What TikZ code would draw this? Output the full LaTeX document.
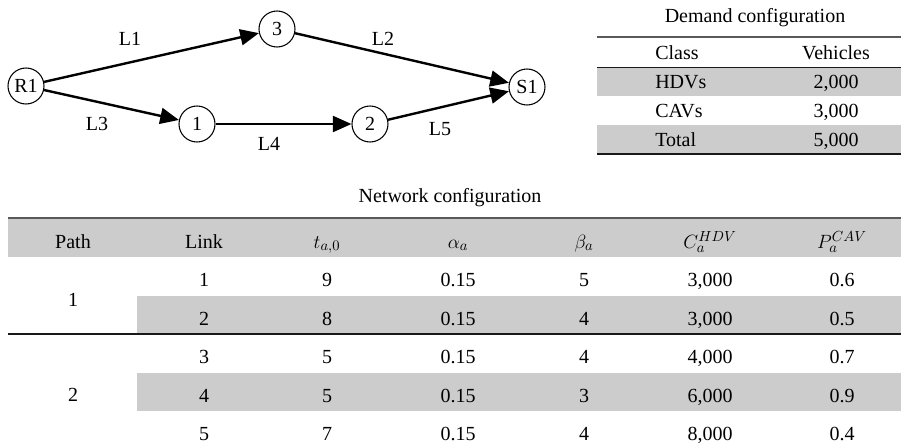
\documentclass[tikz,border=0pt]{standalone}
\usepackage{fontspec}
\setmainfont{Liberation Serif}
\usetikzlibrary{arrows.meta,positioning}
\newcommand{\cfs}{\fontsize{15}{18}\selectfont}

\begin{document}
\begin{tikzpicture}[x=0.75pt, y=-0.75pt,
  vertex/.style={circle, draw, minimum size=27pt, inner sep=0pt,
    line width=0.8pt, font=\cfs},
  link/.style={line width=1.8pt, -{Triangle[length=14pt, width=12pt]}},
  lbl/.style={font=\cfs},
  cell/.style={font=\cfs, anchor=base, inner sep=0pt},
  band/.style={fill=black!20},
  toprule/.style={line width=1.5pt, black!65},
  midrule/.style={line width=1pt, black!90},
]
  \useasboundingbox (0,0) rectangle (901,446);
  % Road network
  \node[vertex] (R1) at (26,86) {R1};
  \node[vertex] (n3) at (277,29) {3};
  \node[vertex] (n1) at (197,124) {1};
  \node[vertex] (n2) at (370,124) {2};
  \node[vertex] (S1) at (527,87) {S1};
  \draw[link] (R1) -- (n3);
  \draw[link] (n3) -- (S1);
  \draw[link] (R1) -- (n1);
  \draw[link] (n1) -- (n2);
  \draw[link] (n2) -- (S1);
  \node[lbl] (L1) at (130,39) {L1};
  \node[lbl] (L2) at (383,39) {L2};
  \node[lbl] (L3) at (97,124) {L3};
  \node[lbl] (L4) at (269,144) {L4};
  \node[lbl] (L5) at (440,129) {L5};
  % Demand configuration
  \fill[band] (597,67) rectangle (901,96);
  \fill[band] (597,125) rectangle (901,154);
  \draw[toprule] (597,37) -- (901,37);
  \draw[midrule, line width=0.7pt] (597,67) -- (901,67);
  \draw[midrule] (597,154) -- (901,154);
  \node[cell] (dtitle) at (755,22) {Demand configuration};
  \node[cell, anchor=base west] (dclass) at (655,59) {Class};
  \node[cell] (dveh) at (836,59) {Vehicles};
  \foreach \c/\v [count=\i] in {HDVs/{2,000}, CAVs/{3,000}, Total/{5,000}}{
    \node[cell, anchor=base west] (dc\i) at (655,59+29*\i) {\c};
    \node[cell] (dv\i) at (836,59+29*\i) {\v};
  }
  % Network configuration
  \node[cell] (ntitle) at (450,202) {Network configuration};
  \fill[band] (8,218) rectangle (901,257);
  \fill[band] (137,295.5) rectangle (901,334);
  \fill[band] (137,372.5) rectangle (901,411);
  \draw[toprule] (8,218) -- (901,218);
  \draw[midrule] (8,334) -- (901,334);
  \foreach \h/\x [count=\i] in {Path/73, Link/204, {$t_{a,0}$}/327,
      {$\alpha_a$}/458, {$\beta_a$}/584, {$C_a^{HDV}$}/710, {$P_a^{CAV}$}/842}{
    \node[cell] (h\i) at (\x,248) {\h};
  }
  \node[cell] (p1) at (73,306) {1};
  \node[cell] (p2) at (73,401.5) {2};
  \foreach \k/\t/\al/\be/\c/\p [count=\r] in {
      1/9/0.15/5/{3,000}/0.6,
      2/8/0.15/4/{3,000}/0.5,
      3/5/0.15/4/{4,000}/0.7,
      4/5/0.15/3/{6,000}/0.9,
      5/7/0.15/4/{8,000}/0.4}{
    \node[cell] (k\r) at (204,248.25+38.5*\r) {\k};
    \node[cell] (t\r) at (327,248.25+38.5*\r) {\t};
    \node[cell] (a\r) at (458,248.25+38.5*\r) {\al};
    \node[cell] (b\r) at (584,248.25+38.5*\r) {\be};
    \node[cell] (c\r) at (710,248.25+38.5*\r) {\c};
    \node[cell] (q\r) at (842,248.25+38.5*\r) {\p};
  }
\end{tikzpicture}
\end{document}
